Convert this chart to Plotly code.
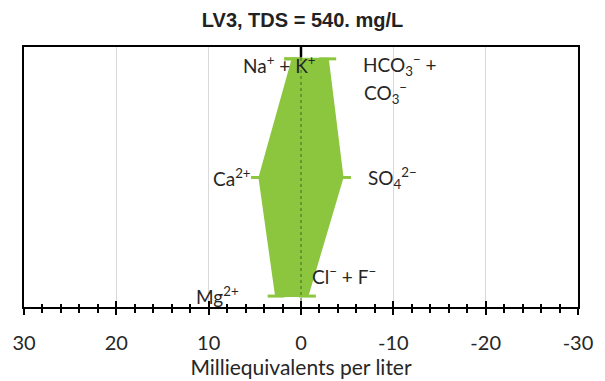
import plotly.graph_objects as go

# Data (meq/L); cations plotted positive (left), anions negative (right)
cation_names = ["Na<sup>+</sup> + K<sup>+</sup>", "Ca<sup>2+</sup>", "Mg<sup>2+</sup>"]
cation_values = [0.9, 4.5, 2.7]
anion_names = ["HCO<sub>3</sub><sup>−</sup> +", "SO<sub>4</sub><sup>2−</sup>", "Cl<sup>−</sup> + F<sup>−</sup>"]
anion_extra = "CO<sub>3</sub><sup>−</sup>"
anion_values = [-2.9, -4.5, -0.7]
row_levels = [3, 2, 1]
x_tickvals = [30, 20, 10, 0, -10, -20, -30]
x_ticktext = ["30", "20", "10", "0", "-10", "-20", "-30"]
title_text = "LV3, TDS = 540. mg/L"

GREEN = "#8CC63F"
YR = [0.908, 3.1]

poly_x = cation_values + anion_values[::-1] + [cation_values[0]]
poly_y = row_levels + row_levels[::-1] + [row_levels[0]]

fig = go.Figure()
fig.add_trace(go.Scatter(
    x=poly_x, y=poly_y, mode="lines+markers", fill="toself",
    fillcolor=GREEN, line=dict(color=GREEN, width=2),
    marker=dict(symbol="line-ew", size=12, line=dict(color=GREEN, width=3)),
    hoverinfo="skip", showlegend=False,
))
# dotted zero line
fig.add_trace(go.Scatter(
    x=[0, 0], y=YR, mode="lines",
    line=dict(color="#3d6b20", width=1, dash="dot"),
    hoverinfo="skip", showlegend=False,
))
# invisible trace for overlay axis
fig.add_trace(go.Scatter(x=[0], y=[2], xaxis="x2", mode="markers",
                         marker=dict(opacity=0), showlegend=False, hoverinfo="skip"))

label_font = dict(family="Lato, Open Sans, sans-serif", size=19, color="#262626")
cat_pos = [(-1.86, 3, "right", -6), (5.25, 2, "right", 0), (6.5, 1, "right", 1)]
an_pos = [(-6.5, 3, "left", -6), (-7.0, 2, "left", -1), (-1.0, 1, "left", 21)]
for name, (xx, yy, anc, dy) in zip(cation_names, cat_pos):
    fig.add_annotation(x=xx, y=yy, text=name, showarrow=False, xanchor=anc,
                       yshift=dy, font=label_font)
for name, (xx, yy, anc, dy) in zip(anion_names, an_pos):
    fig.add_annotation(x=xx, y=yy, text=name, showarrow=False, xanchor=anc,
                       yshift=dy, font=label_font)
fig.add_annotation(x=-6.6, y=row_levels[0], text=anion_extra, showarrow=False,
                   xanchor="left", yshift=-34, font=label_font)

# top tick at zero
fig.add_shape(type="line", xref="x", yref="paper", x0=0, x1=0, y0=1, y1=0.96,
              line=dict(color="black", width=2.5))

fig.update_layout(
    width=605, height=381,
    margin=dict(l=22, r=17, t=47, b=72),
    paper_bgcolor="white", plot_bgcolor="white",
    title=dict(text="<b>" + title_text + "</b>", x=0.5, xanchor="center", y=0.948,
               yanchor="middle",
               font=dict(family="Liberation Sans, Arial, sans-serif", size=20, color="#222")),
    xaxis=dict(range=[30, -30], tickvals=x_tickvals, ticktext=x_ticktext,
               showgrid=True, gridcolor="#d9d9d9", gridwidth=1,
               zeroline=False, showline=True, linecolor="black", linewidth=2,
               mirror=True, ticks="outside", ticklen=6, tickwidth=2, tickcolor="black",
               minor=dict(dtick=2, tick0=0, ticks="outside", ticklen=4, tickwidth=1.5,
                          tickcolor="black", showgrid=False),
               ticklabelstandoff=11,
               tickfont=dict(family="Lato, Open Sans, sans-serif", size=20, color="#262626"),
               title=dict(text="Milliequivalents per liter", standoff=0,
                          font=dict(family="Lato, Open Sans, sans-serif", size=21, color="#262626"))),
    xaxis2=dict(range=[30, -30], overlaying="x", side="bottom", anchor="y",
                tickvals=x_tickvals, showticklabels=False, ticks="inside", ticklen=6,
                tickwidth=2, tickcolor="black", showgrid=False, zeroline=False,
                showline=False,
                minor=dict(dtick=2, tick0=0, ticks="inside", ticklen=3, tickwidth=1.5,
                           tickcolor="black")),
    yaxis=dict(range=YR, showticklabels=False, showgrid=False,
               zeroline=False, showline=True, linecolor="black", linewidth=2,
               mirror=True, ticks=""),
)

fig.write_html("out.html")
